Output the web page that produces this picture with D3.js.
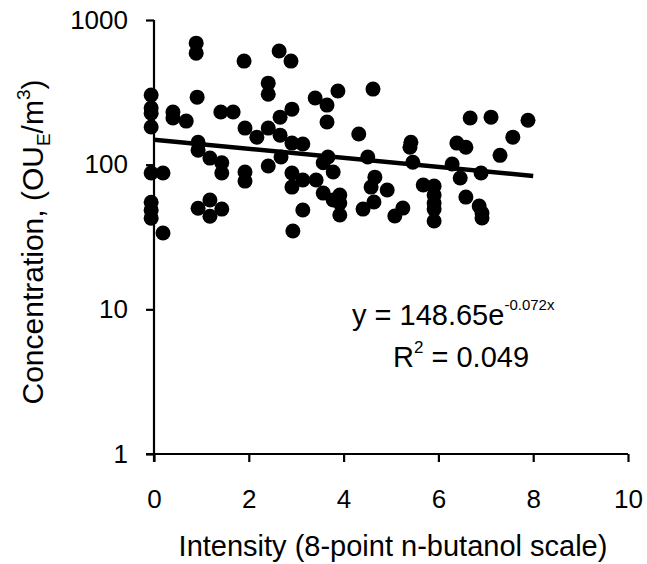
<!DOCTYPE html>
<html>
<head>
<meta charset="utf-8">
<script src="https://cdn.jsdelivr.net/npm/d3@7/dist/d3.min.js"></script>
<style>
  html, body { margin: 0; padding: 0; background: #fff; }
  svg { display: block; }
  text { font-family: "Liberation Sans", Arial, Helvetica, sans-serif; fill: #000; }
</style>
</head>
<body>
<svg id="chart" width="647" height="564"></svg>
<script>
// ---- Data ----
const intensity = [
  -0.06, -0.06, -0.06, -0.06, -0.06, -0.06, -0.06, -0.06,
  0.19, 0.19, 0.40, 0.40, 0.68, 0.89, 0.89, 0.91, 0.93, 0.93, 0.93,
  1.18, 1.18, 1.18, 1.41, 1.43, 1.43, 1.43, 1.67, 1.90, 1.92, 1.92, 1.92,
  2.17, 2.41, 2.41, 2.41, 2.41, 2.64, 2.66, 2.66, 2.68, 2.89,
  2.91, 2.91, 2.91, 2.91, 2.93, 3.14, 3.14, 3.14, 3.40, 3.42,
  3.57, 3.57, 3.65, 3.65, 3.67, 3.78, 3.78, 3.88, 3.92, 3.92, 3.92,
  4.32, 4.41, 4.51, 4.62, 4.66, 4.58, 4.64, 4.92,
  5.08, 5.25, 5.42, 5.40, 5.46, 5.68, 5.91, 5.91, 5.91, 5.91, 5.91,
  6.29, 6.39, 6.46, 6.58, 6.58, 6.67, 6.86, 6.92, 6.92, 6.90,
  7.11, 7.30, 7.57, 7.89
];
const concentration = [
  303, 246, 227, 182, 87.5, 55, 48.5, 42.7,
  87.5, 33.7, 231, 210, 200, 692, 590, 293, 143, 126, 50,
  111, 57, 44, 231, 103, 87.5, 49.3, 231, 520, 179, 88.9, 77,
  155, 366, 307, 179, 97.8, 610, 213, 160, 113, 520,
  242, 141, 87.5, 70, 34.8, 139, 78.3, 48.6, 289, 78.3,
  103, 63.6, 258, 197, 113, 88.9, 57, 323, 61.7, 54.3, 44.9,
  163, 49.3, 113, 333, 82, 70, 55.2, 66.8,
  44.2, 50.1, 143, 132, 104, 72.3, 71.1, 61.7, 54.3, 49.3, 40.8,
  101, 141, 80.8, 132, 59.7, 210, 51.7, 46.3, 42.8, 87.5,
  213, 116, 155, 203
];
const xTicks = [0, 2, 4, 6, 8, 10];
const yTicks = [1, 10, 100, 1000];
const trendCoefA = 148.65;
const trendCoefB = -0.072;
const trendRange = [0, 8];
const xTitle = "Intensity (8-point n-butanol scale)";
const equationMain = "y = 148.65e";
const equationExp = "-0.072x";
const r2Value = " = 0.049";

// ---- Layout ----
const svg = d3.select("#chart");
const x = d3.scaleLinear().domain([0, 10]).range([154, 628]);
const y = d3.scaleLog().domain([1, 1000]).range([454, 20]);

// Axes
const yAxis = d3.axisLeft(y).tickValues(yTicks).tickFormat(d3.format("d"))
  .tickSize(8).tickPadding(18).tickSizeOuter(0);
const xAxis = d3.axisBottom(x).tickValues(xTicks).tickFormat(d3.format("d"))
  .tickSize(8).tickPadding(28).tickSizeOuter(0);

const gy = svg.append("g").attr("transform", `translate(${x(0)},0)`).call(yAxis);
const gx = svg.append("g").attr("transform", `translate(0,${y(1)})`).call(xAxis);

[gx, gy].forEach(g => {
  g.select(".domain").attr("stroke", "#000").attr("stroke-width", 2.2);
  g.selectAll(".tick line").attr("stroke", "#000").attr("stroke-width", 2.2);
  g.selectAll(".tick text").attr("font-size", 26)
    .attr("font-family", '"Liberation Sans", Arial, sans-serif').attr("fill", "#000");
});
// axis lines run past each other to the outer ticks
gy.select(".domain").attr("d", `M0,${y(1000)}V${y(1) + 8}`);
gx.select(".domain").attr("d", `M${x(0) - 8},0H${x(10)}`);

// Points
const pts = intensity.map((v, i) => ({ x: v, y: concentration[i] }));
svg.append("g").selectAll("circle").data(pts).join("circle")
  .attr("cx", d => x(d.x)).attr("cy", d => y(d.y)).attr("r", 7.5).attr("fill", "#000");

// Trend line (exponential fit, straight on a log axis)
const trendPts = trendRange.map(t => ({ x: t, y: trendCoefA * Math.exp(trendCoefB * t) }));
const line = d3.line().x(d => x(d.x)).y(d => y(d.y));
svg.append("path").datum(trendPts).attr("d", line)
  .attr("fill", "none").attr("stroke", "#000").attr("stroke-width", 4.5);

// Equation
const eq = svg.append("text").attr("x", 352).attr("y", 325).attr("font-size", 29);
eq.append("tspan").text(equationMain);
eq.append("tspan").attr("font-size", 15).attr("dy", -15).text(equationExp);

const r2 = svg.append("text").attr("x", 393).attr("y", 367).attr("font-size", 29);
r2.append("tspan").text("R");
r2.append("tspan").attr("font-size", 17).attr("dy", -14).text("2");
r2.append("tspan").attr("dy", 14).text(r2Value);

// X title
svg.append("text").attr("x", 393).attr("y", 556).attr("text-anchor", "middle")
  .attr("font-size", 29).text(xTitle);

// Y title
const yt = svg.append("text").attr("transform", "translate(43,242) rotate(-90)")
  .attr("text-anchor", "middle").attr("font-size", 30);
yt.append("tspan").text("Concentration, (OU");
yt.append("tspan").attr("font-size", 19).attr("dy", 7).text("E");
yt.append("tspan").attr("dy", -7).text("/m");
yt.append("tspan").attr("font-size", 19).attr("dy", -13).text("3");
yt.append("tspan").attr("dy", 13).text(")");
</script>
</body>
</html>
